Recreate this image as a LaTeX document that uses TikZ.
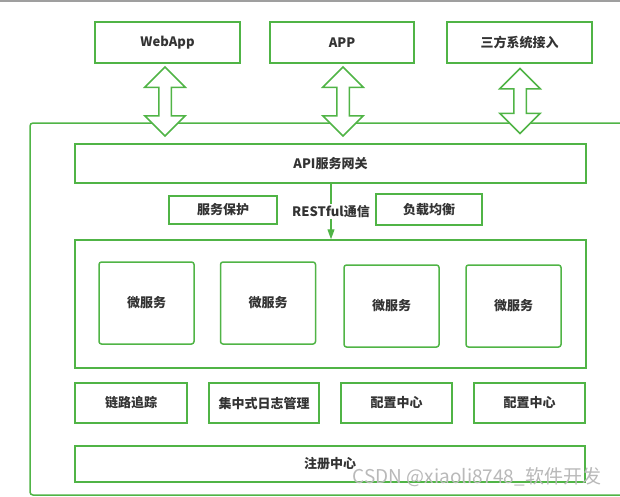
\documentclass[tikz,border=0pt]{standalone}
\usepackage{fontspec}
\setmainfont{Noto Sans CJK SC}
\usetikzlibrary{arrows.meta}
\usetikzlibrary{shapes.arrows}
\definecolor{boxgreen}{RGB}{80,180,70}
\definecolor{txtgray}{RGB}{51,51,51}

\begin{document}
\begin{tikzpicture}[x=1pt, y=-1pt,
    box/.style={draw=boxgreen, line width=1.5pt, fill=white, inner sep=0pt,
      font=\fontsize{13}{15}\selectfont\bfseries, text=txtgray},
    msbox/.style={box, rounded corners=2.5pt, minimum width=95, minimum height=82},
    rowbox/.style={box, minimum height=40},
    dblarrow/.style={double arrow, draw=boxgreen, line width=1.5pt, fill=white,
      rotate=90, inner xsep=0pt, inner ysep=5.5pt, minimum height=69,
      double arrow head extend=14}]
  \useasboundingbox (0,0) rectangle (620,496);
  \fill[gray!75] (0,0) rectangle (620,1.5);

  % clients
  \node[box, minimum width=145, minimum height=41] (webapp) at (167.5,42.5) {WebApp};
  \node[box, minimum width=144, minimum height=41] (app) at (342,42.5) {APP};
  \node[box, minimum width=145, minimum height=41] (third) at (519.5,42.5) {三方系统接入};

  % platform frame
  \draw[boxgreen, line width=1.5pt, rounded corners=3pt] (30,123) rectangle (640,495);

  \node[dblarrow] (link1) at (165,101.5) {};
  \node[dblarrow] (link2) at (343,101.5) {};
  \node[dblarrow, minimum height=65] (link3) at (520,101) {};

  \node[box, minimum width=511, minimum height=39] (gw) at (330.5,163.5) {API服务网关};
  \node[box, minimum width=108, minimum height=28] (protect) at (223,210) {服务保护};
  \node[box, minimum width=106, minimum height=31] (balance) at (429,209.5) {负载均衡};

  \node[box, minimum width=511, minimum height=128] (msgroup) at (330.5,304) {};
  \node[msbox] (ms1) at (146.5,303) {微服务};
  \node[msbox] (ms2) at (268,303) {微服务};
  \node[msbox] (ms3) at (391.5,306) {微服务};
  \node[msbox] (ms4) at (513.5,306) {微服务};

  \draw[boxgreen, line width=1.2pt, -{Triangle[length=10pt, width=7pt]}]
    (gw.south -| 331,0) -- node[fill=white, inner sep=1pt, text=txtgray,
      font=\fontsize{13}{15}\selectfont\bfseries] (rest) {RESTful通信}
    (msgroup.north -| 331,0);

  \node[rowbox, minimum width=112] (trace) at (131,403) {链路追踪};
  \node[rowbox, minimum width=110] (logmgr) at (264,403) {集中式日志管理};
  \node[rowbox, minimum width=111] (cfg1) at (396.5,403) {配置中心};
  \node[rowbox, minimum width=111] (cfg2) at (529.5,403) {配置中心};

  \node[box, minimum width=510, minimum height=36] (registry) at (330,464) {注册中心};

  \node[text=gray!55, font=\fontsize{19}{22}\selectfont] (mark) at (477,477)
    {CSDN @xiaoli8748\_软件开发};
\end{tikzpicture}
\end{document}
